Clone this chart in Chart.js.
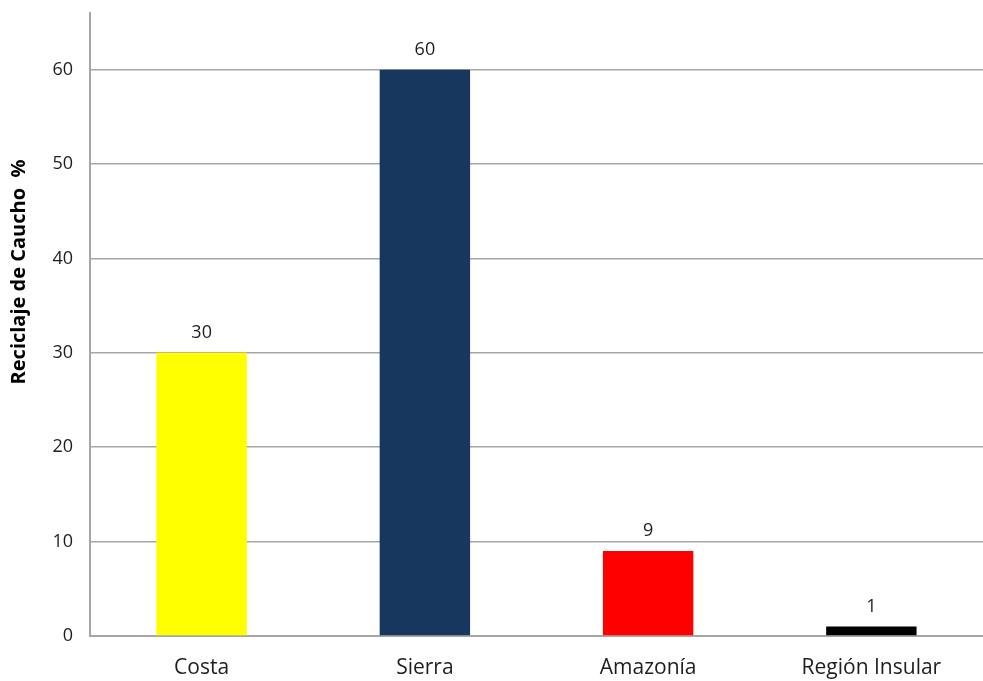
<!DOCTYPE html>
<html>
<head>
<meta charset="utf-8">
<script src="https://cdn.jsdelivr.net/npm/chart.js@4"></script>
<style>
  html, body { margin: 0; padding: 0; background: #fff; }
  #wrap { width: 983px; height: 681px; }
</style>
</head>
<body>
<div id="wrap"><canvas id="caucho"></canvas></div>
<script>
// Reciclaje de caucho por región
var regiones = ["Costa", "Sierra", "Amazonía", "Región Insular"];
var porcentajes = [30, 60, 9, 1];
var colores = ["#ffff00", "#17375e", "#ff0000", "#000000"];
var yTicks = [0, 10, 20, 30, 40, 50, 60];
var yTitle = "Reciclaje de Caucho  %";

var fontFamily = "'Open Sans', sans-serif";
var textColor = "#1e1e1e";
var gridColor = "#a6a6a6";

// value written above each bar
var barValues = {
  id: "barValues",
  afterDatasetsDraw: function (chart) {
    var ctx = chart.ctx;
    var meta = chart.getDatasetMeta(0);
    ctx.save();
    ctx.font = "18px " + fontFamily;
    ctx.fillStyle = textColor;
    ctx.textAlign = "center";
    ctx.textBaseline = "alphabetic";
    meta.data.forEach(function (bar, i) {
      ctx.fillText(String(porcentajes[i]), bar.x, bar.y - 15);
    });
    ctx.restore();
  }
};

// rotated y axis title, placed a bit above the middle
var axisTitle = {
  id: "axisTitle",
  afterDraw: function (chart) {
    var ctx = chart.ctx;
    ctx.save();
    ctx.translate(19, 272);
    ctx.rotate(-Math.PI / 2);
    ctx.font = "bold 20px " + fontFamily;
    ctx.fillStyle = "#000";
    ctx.textAlign = "center";
    ctx.textBaseline = "middle";
    ctx.fillText(yTitle, 0, 0);
    ctx.restore();
  }
};

var ctx = document.getElementById("caucho").getContext("2d");

new Chart(ctx, {
  type: "bar",
  data: {
    labels: regiones,
    datasets: [{
      data: porcentajes,
      backgroundColor: colores,
      borderWidth: 0,
      barPercentage: 0.405,
      categoryPercentage: 1.0
    }]
  },
  options: {
    responsive: true,
    maintainAspectRatio: false,
    animation: false,
    layout: { padding: { top: 13, right: 0, bottom: 0, left: 0 } },
    plugins: {
      legend: { display: false },
      tooltip: { enabled: false }
    },
    scales: {
      x: {
        grid: { display: false },
        border: { display: true, color: gridColor, width: 2 },
        ticks: {
          color: textColor,
          font: { family: fontFamily, size: 21 },
          padding: 11
        },
        afterFit: function (scale) { scale.height = 45; }
      },
      y: {
        min: 0,
        max: 66,
        grid: {
          color: gridColor,
          lineWidth: 1.5,
          drawTicks: false
        },
        border: { display: true, color: gridColor, width: 2 },
        ticks: {
          stepSize: 10,
          color: textColor,
          font: { family: fontFamily, size: 18 },
          padding: 17
        },
        afterBuildTicks: function (scale) {
          scale.ticks = yTicks.map(function (v) { return { value: v }; });
        },
        afterFit: function (scale) {
          scale.width = 90;
          scale.paddingTop = 0;
          scale.paddingBottom = 0;
        }
      }
    }
  },
  plugins: [barValues, axisTitle]
});
</script>
</body>
</html>
